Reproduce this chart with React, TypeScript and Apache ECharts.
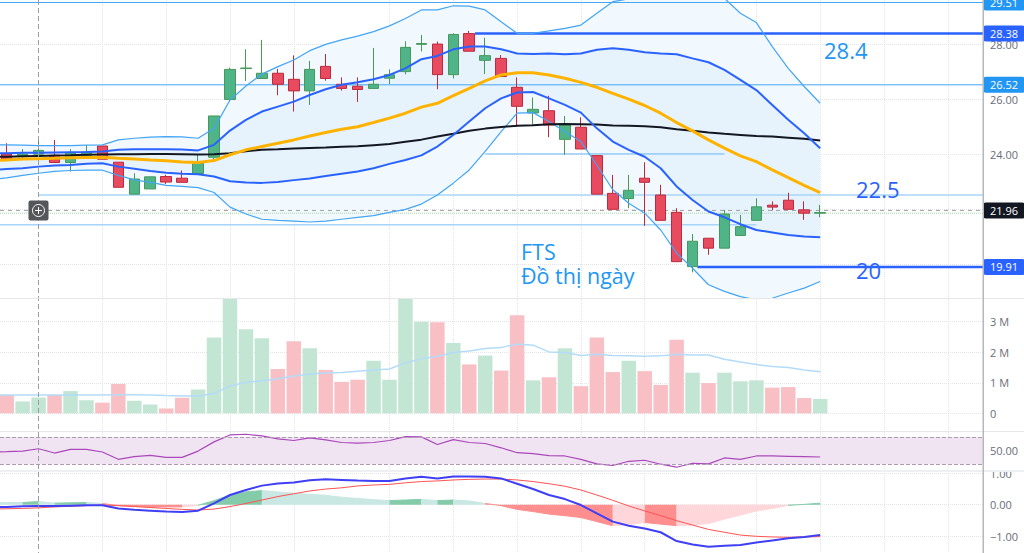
import React, { useEffect, useRef } from "react";
import * as echarts from "echarts";

const candleOpen = [24.01,23.91,24.00,23.96,23.70,23.96,24.30,23.71,22.55,22.74,23.19,23.13,23.30,23.89,25.99,27.11,26.75,26.94,26.72,26.30,27.19,26.54,26.47,26.39,26.76,27.00,27.99,28.00,26.89,28.38,27.41,27.48,26.43,25.50,25.58,24.54,24.98,23.95,22.58,22.39,23.13,22.52,21.89,19.92,20.95,20.59,21.05,21.60,22.15,22.33,21.98,21.86];
const candleClose = [23.79,24.01,24.14,23.70,24.04,24.08,23.82,22.80,23.10,23.18,22.99,22.98,23.67,25.39,27.08,27.13,26.94,26.54,26.30,27.08,26.75,26.39,26.35,26.54,26.89,27.88,28.02,26.89,28.35,27.74,27.58,26.82,25.74,25.63,25.06,25.06,24.19,22.55,22.00,22.69,22.98,21.60,20.10,20.84,20.59,21.83,21.37,22.09,22.08,22.00,21.86,21.88];
const candleLow = [23.79,23.85,23.98,23.70,23.37,23.91,23.82,22.80,22.55,22.74,22.92,22.98,23.30,23.79,25.91,26.66,26.75,26.14,25.55,25.79,26.67,26.31,25.90,26.39,26.55,26.90,27.73,26.36,26.75,27.74,26.91,26.82,25.00,25.06,24.62,23.98,24.19,22.55,22.00,22.04,21.40,21.60,20.10,19.71,20.35,20.59,21.05,21.60,21.96,22.00,21.62,21.71];
const candleHigh = [24.40,24.19,24.58,24.52,24.19,24.33,24.30,23.71,23.31,23.18,23.25,23.41,23.98,25.39,27.14,27.81,28.15,27.10,27.59,27.39,27.64,26.79,26.79,27.86,27.08,28.10,28.33,28.09,28.39,28.48,28.23,27.60,26.79,26.06,26.12,25.39,25.34,23.95,23.25,23.25,23.71,22.89,22.04,21.10,20.95,21.98,21.80,22.40,22.29,22.60,22.29,22.16];

// Each indicator list starts one session before the first visible candle (index -1).
const outerUpper = [24.34,24.34,24.33,24.31,24.31,24.31,24.33,24.34,24.52,24.58,24.62,24.64,24.63,24.58,24.94,25.97,26.48,26.91,27.18,27.42,27.76,27.99,28.15,28.29,28.45,28.66,28.93,29.24,29.24,29.39,29.38,29.24,28.81,28.39,28.39,28.48,28.57,28.69,29.12,29.54,29.64,29.70,29.78,29.82,29.82,29.78,29.66,29.12,28.78,27.91,27.12,26.46,25.85];
const innerUpper = [24.03,24.04,24.05,24.05,24.06,24.07,24.08,24.10,24.16,24.18,24.18,24.18,24.17,24.14,24.34,24.86,25.25,25.55,25.73,25.91,26.15,26.36,26.52,26.61,26.72,26.88,27.12,27.45,27.57,27.81,27.91,27.91,27.81,27.66,27.64,27.66,27.63,27.66,27.79,27.85,27.79,27.70,27.66,27.63,27.48,27.34,27.06,26.70,26.33,25.79,25.25,24.76,24.22];
const orangeAverage = [23.78,23.79,23.83,23.84,23.85,23.87,23.88,23.89,23.85,23.83,23.79,23.76,23.72,23.70,23.77,23.98,24.16,24.28,24.40,24.52,24.66,24.79,24.91,25.00,25.15,25.31,25.49,25.71,25.85,26.13,26.39,26.66,26.88,26.96,26.96,26.88,26.76,26.61,26.43,26.21,26.00,25.77,25.49,25.15,24.85,24.52,24.22,23.94,23.73,23.43,23.15,22.87,22.61];
const blackAverage = [23.90,23.91,23.93,23.94,23.95,23.96,23.98,23.99,24.00,24.00,24.01,24.01,24.00,23.99,24.00,24.04,24.11,24.16,24.18,24.21,24.23,24.24,24.27,24.29,24.33,24.37,24.45,24.53,24.64,24.74,24.85,24.93,24.99,25.03,25.05,25.09,25.10,25.09,25.08,25.04,25.03,25.02,24.98,24.91,24.85,24.79,24.74,24.70,24.66,24.64,24.60,24.56,24.50];
const innerLower = [23.43,23.46,23.49,23.55,23.59,23.61,23.65,23.67,23.55,23.47,23.39,23.33,23.29,23.27,23.19,23.02,22.97,22.96,22.99,23.06,23.12,23.21,23.29,23.37,23.49,23.65,23.79,23.96,24.28,24.70,25.19,25.67,26.03,26.24,26.26,26.03,25.79,25.51,24.94,24.46,24.16,23.91,23.49,22.83,22.34,21.92,21.71,21.46,21.25,21.16,21.07,21.01,20.99];
const outerLower = [23.08,23.14,23.23,23.31,23.38,23.41,23.42,23.42,23.23,23.07,22.98,22.87,22.83,22.79,22.61,22.08,21.83,21.64,21.60,21.57,21.54,21.57,21.64,21.71,21.77,21.89,22.00,22.19,22.52,22.95,23.43,24.10,24.82,25.49,25.51,25.19,24.82,24.46,23.61,22.71,22.22,21.86,21.25,20.41,19.86,19.26,19.02,18.83,18.71,18.77,18.96,19.14,19.38];

const volume = [0.60,0.39,0.52,0.60,0.73,0.43,0.35,0.96,0.41,0.29,0.16,0.51,0.78,2.48,3.80,2.75,2.46,1.45,2.36,2.13,1.42,1.03,1.10,1.72,1.10,3.80,3.00,2.98,2.30,1.60,1.89,1.40,3.21,1.08,1.18,2.13,0.89,2.48,1.35,1.72,1.38,0.93,2.41,1.33,0.99,1.33,1.05,1.08,0.84,0.86,0.50,0.47];
const volumeAverage = [0.60,0.60,0.60,0.60,0.60,0.60,0.60,0.60,0.61,0.61,0.60,0.58,0.57,0.57,0.65,0.90,1.01,1.07,1.13,1.22,1.29,1.32,1.34,1.38,1.42,1.45,1.65,1.79,1.87,1.99,2.04,2.12,2.15,2.27,2.23,2.01,1.99,1.89,1.93,1.89,1.88,1.87,1.88,1.93,1.91,1.91,1.77,1.68,1.60,1.53,1.50,1.42,1.36];
const rsi = [48.2,48.6,49.5,52.9,46.6,51.9,51.9,48.1,37.4,41.3,43.2,40.3,40.3,49.5,63.0,73.2,74.2,71.7,67.4,65.0,68.8,65.9,62.1,61.1,62.1,65.0,70.8,70.3,59.2,66.4,62.1,60.6,54.3,47.1,45.7,42.8,42.3,37.4,30.7,28.3,34.5,36.0,30.2,25.8,31.6,30.7,39.4,37.4,42.3,42.3,41.8,41.3,40.8];
const macd = [-0.07,-0.07,-0.05,-0.04,-0.04,-0.03,-0.02,-0.02,-0.12,-0.16,-0.19,-0.22,-0.23,-0.19,0.04,0.31,0.47,0.61,0.68,0.71,0.78,0.81,0.79,0.77,0.76,0.76,0.84,0.89,0.84,0.90,0.90,0.89,0.84,0.67,0.50,0.31,0.18,-0.01,-0.28,-0.54,-0.67,-0.76,-0.88,-1.16,-1.27,-1.34,-1.31,-1.29,-1.21,-1.14,-1.07,-1.03,-0.97];
const macdSignal = [-0.14,-0.13,-0.12,-0.10,-0.07,-0.05,-0.03,-0.01,-0.03,-0.06,-0.09,-0.12,-0.15,-0.17,-0.14,-0.06,0.04,0.15,0.26,0.35,0.44,0.50,0.54,0.60,0.63,0.65,0.70,0.74,0.76,0.79,0.81,0.82,0.82,0.79,0.74,0.67,0.59,0.47,0.31,0.14,-0.04,-0.20,-0.35,-0.51,-0.65,-0.79,-0.88,-0.97,-1.01,-1.03,-1.04,-1.03,-1.02];
const macdHistogram = [0.07,0.07,0.07,0.10,0.05,0.06,0.07,0.04,-0.03,-0.05,-0.07,-0.07,-0.07,-0.02,0.13,0.31,0.41,0.45,0.41,0.37,0.33,0.30,0.24,0.20,0.16,0.13,0.15,0.17,0.13,0.15,0.12,0.04,-0.03,-0.15,-0.22,-0.30,-0.35,-0.41,-0.54,-0.67,-0.63,-0.57,-0.62,-0.67,-0.65,-0.60,-0.46,-0.33,-0.20,-0.12,-0.02,0.01,0.05];

const GREEN_D = "#84cbaa";
const GREEN_L = "#c9e7e3";
const RED_D = "#ff8e8e";
const RED_L = "#ffd7da";
const histogramSegments: [number, number, string][] = [
  [-1,1,GREEN_L],[1,2,GREEN_D],[2,3,GREEN_L],[3,5,GREEN_D],[5,6,GREEN_L],[6,11,RED_D],[11,12,RED_L],[12,16,GREEN_D],[16,24,GREEN_L],[24,26,GREEN_D],[26,27,GREEN_L],[27,28,GREEN_D],[28,30,GREEN_L],[30,38,RED_D],[38,40,RED_L],[40,42,RED_D],[42,49,RED_L],[49,51,GREEN_D],
];

const verticalGrid = [6,10,14,18,24,28,32,36,40,47,51,55,59];
const X_MIN = -0.42;
const X_MAX = 61.21;

const priceLevels: { value: number; from: number; to: number; color: string; width: number; tag?: string; type?: number[] | string }[] = [
  { value: 29.51, from: X_MIN, to: X_MAX, color: "#42a5f5", width: 1, tag: "#2196f3" },
  { value: 28.38, from: 29.36, to: X_MAX, color: "#2962ff", width: 2.5, tag: "#2962ff" },
  { value: 26.52, from: X_MIN, to: X_MAX, color: "#42a5f5", width: 1, tag: "#2196f3" },
  { value: 24.01, from: 30, to: 45, color: "#64b5f6", width: 1 },
  { value: 22.52, from: 2, to: X_MAX, color: "#a6d4fa", width: 1.5 },
  { value: 21.96, from: X_MIN, to: X_MAX, color: "#9e9e9e", width: 1, tag: "#131722", type: [4, 4] },
  { value: 21.86, from: X_MIN, to: X_MAX, color: "#a5d6a7", width: 1, type: "dotted" },
  { value: 21.44, from: X_MIN, to: 47, color: "#a6d4fa", width: 1.5 },
  { value: 19.91, from: 43.3, to: X_MAX, color: "#2962ff", width: 2.5, tag: "#2962ff" },
];

const indexed = (values: number[]) => values.map((v, i) => [i - 1, v]);
const AXIS_FONT = "'Open Sans', sans-serif";
const GRID_LINE = { show: true, lineStyle: { color: "#e3e4e8", type: "dotted" as const, width: 1 } };

function line(name: string, values: number[], yIdx: number, color: string, width: number, z = 3) {
  return {
    name, type: "line", data: indexed(values), xAxisIndex: yIdx, yAxisIndex: yIdx, showSymbol: false, silent: true,
    lineStyle: { color, width }, itemStyle: { color }, z,
  };
}

function band(name: string, lower: number[], upper: number[], fill: string) {
  return {
    name, type: "custom", coordinateSystem: "cartesian2d", clip: true, silent: true, z: 1,
    data: [[0, lower[0]]],
    renderItem: (_p: unknown, api: { coord: (v: number[]) => number[] }) => {
      const top = upper.map((v, i) => api.coord([i - 1, v]));
      const bottom = lower.map((v, i) => api.coord([i - 1, v])).reverse();
      return { type: "polygon", shape: { points: [...top, ...bottom] }, style: { fill } };
    },
  };
}

function xAxis(gridIndex: number) {
  return {
    type: "value", gridIndex, min: X_MIN, max: X_MAX, axisLine: { show: false }, axisLabel: { show: false },
    axisTick: { show: false, customValues: verticalGrid }, splitLine: GRID_LINE,
  };
}

function yAxis(gridIndex: number, min: number, max: number, ticks: number[], labels: number[], formatter: (v: number) => string) {
  return {
    type: "value", gridIndex, position: "right", min, max, axisLine: { show: false },
    axisTick: { show: false, customValues: ticks }, splitLine: GRID_LINE,
    axisLabel: { customValues: labels, formatter, color: "#6a6d78", fontSize: 11, fontFamily: AXIS_FONT, margin: 7, align: "left" },
  };
}

const annotations = [
  { text: "28.4", x: 824, y: 39, color: "#2196f3", size: 22 },
  { text: "22.5", x: 856, y: 178, color: "#2962ff", size: 22 },
  { text: "20", x: 856, y: 259, color: "#2962ff", size: 22 },
  { text: "FTS", x: 521, y: 240, color: "#2196f3", size: 21.5 },
  { text: "Đồ thị ngày", x: 521, y: 264, color: "#2196f3", size: 21.5 },
];

export default function App() {
  const ref = useRef<HTMLDivElement>(null);
  useEffect(() => {
    const chart = echarts.init(ref.current!, undefined, { renderer: "svg" });
    const candles = candleOpen.map((o, i) => [i, o, candleClose[i], candleLow[i], candleHigh[i]]);
    chart.setOption({
      animation: false,
      grid: [
        { left: 0, width: 983, top: 0, height: 298 },
        { left: 0, width: 983, top: 299, height: 132 },
        { left: 0, width: 983, top: 432, height: 38 },
        { left: 0, width: 983, top: 471, height: 82 },
      ],
      xAxis: [xAxis(0), xAxis(1), xAxis(2), xAxis(3)],
      yAxis: [
        yAxis(0, 18.78, 29.6, [20,22,24,26,28], [24,26,28], (v) => v.toFixed(2)),
        yAxis(1, -0.577, 3.74, [0,1,2,3], [0,1,2,3], (v) => (v === 0 ? "0" : v + " M")),
        yAxis(2, 21.7, 77.5, [50], [50], (v) => v.toFixed(2)),
        yAxis(3, -1.543, 1.077, [-1,0,1], [-1,0,1], (v) => v.toFixed(2).replace("-", "\u2212")),
      ],
      series: [
        band("outer band", outerLower, outerUpper, "#f2f9fe"),
        band("inner band", innerLower, innerUpper, "#e6f3fc"),
        ...priceLevels.map((l) => ({
          name: "level " + l.value, type: "line", showSymbol: false, silent: true, z: 1.5,
          data: [[l.from, l.value], [l.to, l.value]],
          lineStyle: { color: l.color, width: l.width, type: l.type || "solid" },
          itemStyle: { color: l.color },
          endLabel: l.tag
            ? { show: true, distance: 0, formatter: l.value.toFixed(2), color: "#fff", backgroundColor: l.tag, fontSize: 11, fontFamily: AXIS_FONT, padding: [3, 7, 2, 7], borderRadius: 3 }
            : { show: false },
        })),
        {
          name: "price", type: "candlestick", data: candles, barWidth: 11, silent: true, z: 2,
          encode: { x: 0, y: [1, 2, 3, 4] },
          itemStyle: { color: "#4fb488", color0: "#e84a5f", borderColor: "#47985a", borderColor0: "#bd2a3c", borderWidth: 1 },
        },
        line("outer upper", outerUpper, 0, "#42a5f5", 1.2),
        line("outer lower", outerLower, 0, "#42a5f5", 1.2),
        line("black average", blackAverage, 0, "#131722", 2),
        line("orange average", orangeAverage, 0, "#ffb300", 3),
        line("inner upper", innerUpper, 0, "#2962ff", 2),
        line("inner lower", innerLower, 0, "#2962ff", 2),
        {
          name: "volume", type: "bar", xAxisIndex: 1, yAxisIndex: 1, barWidth: 14.5, silent: true,
          data: volume.map((v, i) => ({
            value: [i, v],
            itemStyle: { color: candleClose[i] >= candleOpen[i] ? "#c3e6d4" : "#f8bfc5" },
          })),
        },
        line("volume average", volumeAverage, 1, "#b3dcfa", 1.5),
        {
          ...line("rsi", rsi, 2, "#ab47bc", 1.2),
          markArea: { silent: true, itemStyle: { color: "#f0e4f2" }, data: [[{ yAxis: 30 }, { yAxis: 70 }]] },
          markLine: { silent: true, symbol: "none", label: { show: false }, lineStyle: { color: "#b09ab4", type: "dashed", width: 1 }, data: [{ yAxis: 70 }, { yAxis: 30 }] },
        },
        ...histogramSegments.map(([a, b, color], k) => ({
          name: "histogram " + k, type: "line", xAxisIndex: 3, yAxisIndex: 3, showSymbol: false, silent: true, z: 1,
          data: indexed(macdHistogram).slice(a + 1, b + 2),
          lineStyle: { color, width: 1 }, areaStyle: { color, opacity: 1 },
        })),
        line("signal", macdSignal, 3, "#ff5252", 1),
        line("macd", macd, 3, "#3f3ff5", 2),
      ],
      graphic: [
        { type: "rect", z: 50, shape: { x: 983, y: 464, width: 41, height: 6 }, style: { fill: "#fff" } },
        { type: "rect", z: 51, shape: { x: 0, y: 470, width: 1024, height: 2 }, style: { fill: "#eeeff2" } },
        { type: "rect", z: 51, shape: { x: 0, y: 431, width: 1024, height: 1 }, style: { fill: "#e6e7eb" } },
        { type: "rect", z: 51, shape: { x: 0, y: 298, width: 1024, height: 1 }, style: { fill: "#e6e7eb" } },
        { type: "rect", z: 52, shape: { x: 982.5, y: 0, width: 1.5, height: 553 }, style: { fill: "#b5b7bd" } },
        { type: "line", z: 49, shape: { x1: 38.5, y1: 0, x2: 38.5, y2: 553 }, style: { stroke: "#9a9ca3", lineWidth: 1, lineDash: [5, 3] } },
        ...annotations.map((t) => ({
          type: "text", z: 40, x: t.x, y: t.y,
          style: { text: t.text, fill: t.color, fontSize: t.size, fontFamily: "'Open Sans', sans-serif" },
        })),
        {
          type: "group", z: 60, x: 38.5, y: 210.5, silent: true,
          children: [
            { type: "rect", z: 60, shape: { x: -10, y: -10, width: 20, height: 20, r: 2 }, style: { fill: "#555659" } },
            { type: "circle", z: 61, shape: { cx: 0, cy: 0, r: 6 }, style: { fill: "none", stroke: "#fff", lineWidth: 1 } },
            { type: "line", z: 61, shape: { x1: -3.5, y1: 0, x2: 3.5, y2: 0 }, style: { stroke: "#fff", lineWidth: 1 } },
            { type: "line", z: 61, shape: { x1: 0, y1: -3.5, x2: 0, y2: 3.5 }, style: { stroke: "#fff", lineWidth: 1 } },
          ],
        },
      ],
    });
    return () => chart.dispose();
  }, []);
  return <div ref={ref} style={{ position: "fixed", left: 0, top: 0, width: 1024, height: 553, background: "#fff" }} />;
}
